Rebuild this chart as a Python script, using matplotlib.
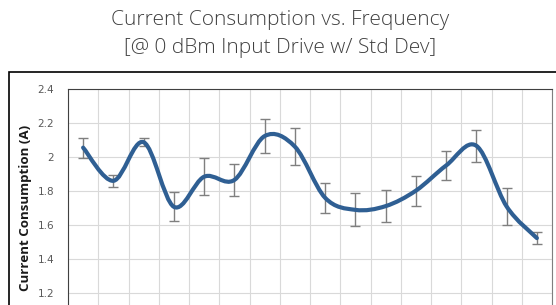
import numpy as np
import matplotlib.pyplot as plt
from matplotlib.path import Path
from matplotlib.patches import PathPatch, Rectangle

# mean current and std dev per frequency point (16 points)
current_mean = [2.055, 1.86, 2.087, 1.707, 1.884, 1.865, 2.123, 2.061,
                1.76, 1.689, 1.711, 1.802, 1.95, 2.066, 1.709, 1.523]
current_std = [0.058, 0.035, 0.025, 0.085, 0.108, 0.094, 0.10, 0.108,
               0.089, 0.097, 0.095, 0.088, 0.083, 0.095, 0.109, 0.035]
y_ticks = [1.0, 1.2, 1.4, 1.6, 1.8, 2.0, 2.2, 2.4]
y_tick_labels = ["", "1.2", "1.4", "1.6", "1.8", "2", "2.2", "2.4"]

LINE_COLOR = "#2f5f93"
W, H = 556, 305


def smooth_path(xs, ys):
    """Excel style smoothed line: cubic bezier with catmull-rom control points."""
    xs = np.asarray(xs, float)
    ys = np.asarray(ys, float)
    n = len(xs)
    verts = [(xs[0], ys[0])]
    codes = [Path.MOVETO]
    for i in range(n - 1):
        p0 = np.array([xs[max(i - 1, 0)], ys[max(i - 1, 0)]])
        p1 = np.array([xs[i], ys[i]])
        p2 = np.array([xs[i + 1], ys[i + 1]])
        p3 = np.array([xs[min(i + 2, n - 1)], ys[min(i + 2, n - 1)]])
        c1 = p1 + (p2 - p0) / 6.0
        c2 = p2 - (p3 - p1) / 6.0
        verts += [tuple(c1), tuple(c2), tuple(p2)]
        codes += [Path.CURVE4] * 3
    return Path(verts, codes)


fig = plt.figure(figsize=(W / 100, H / 100), dpi=100)
fig.patch.set_facecolor("white")

# outer chart border
fig.patches.append(Rectangle((9 / W, -0.1), 1.2, 1.1 - 72 / H, transform=fig.transFigure,
                             fill=False, edgecolor="black", linewidth=1.2, zorder=0))

ax = fig.add_axes([68 / W, 1 - 327 / H, (552 - 68) / W, (327 - 89) / H])
x = np.arange(len(current_mean))

ax.set_xlim(-0.5, len(x) - 0.5)
ax.set_ylim(1.0, 2.4)
ax.set_yticks(y_ticks)
ax.set_yticklabels(y_tick_labels)
ax.set_xticks(np.arange(-0.5, len(x), 1.0))
ax.set_xticklabels([])
ax.tick_params(axis="both", length=0, labelsize=7.5, labelcolor="#595959", pad=10)
ax.grid(True, color="#d9d9d9", linewidth=0.8)
ax.set_axisbelow(True)
for s in ax.spines.values():
    s.set_color("#7f7f7f")
    s.set_linewidth(0.8)
ax.spines["left"].set_color("#404040")
ax.spines["top"].set_color("#404040")

ax.errorbar(x, current_mean, yerr=current_std, fmt="none", ecolor="#7f7f7f",
            elinewidth=1.0, capsize=3.5, capthick=1.0, zorder=3)
ax.add_patch(PathPatch(smooth_path(x, current_mean), fill=False, edgecolor=LINE_COLOR,
                       linewidth=3.0, capstyle="round", joinstyle="round", zorder=4))

ax.set_ylabel("Current Consumption (A)", fontsize=9.6, fontweight="bold", color="#1a1a1a",
              family=["Open Sans", "DejaVu Sans"], labelpad=4)

fig.text(280 / W, 1 - 20 / H, "Current Consumption vs. Frequency", ha="center", va="center",
         fontsize=15, fontweight="light", color="#404040", family=["Open Sans", "DejaVu Sans"])
fig.text(280 / W, 1 - 48 / H, "[@ 0 dBm Input Drive w/ Std Dev]", ha="center", va="center",
         fontsize=15, fontweight="light", color="#404040", family=["Open Sans", "DejaVu Sans"])

fig.savefig("out.png", dpi=100)
